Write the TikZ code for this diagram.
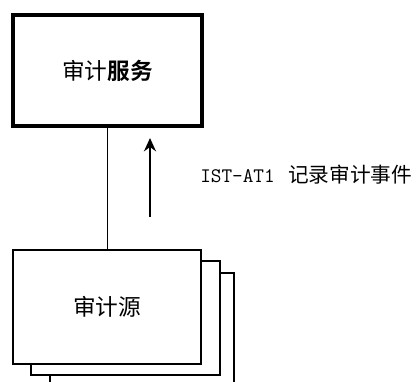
\documentclass[tikz,border=0pt]{standalone}
\usepackage{fontspec}
\newfontfamily\cjk{Noto Sans CJK SC}
\newfontfamily\cjkbf{Noto Sans CJK SC Bold}
\usetikzlibrary{positioning, arrows.meta}

\begin{document}
\begin{tikzpicture}[x=0.75pt, y=-0.75pt, >=Stealth,
  servicebox/.style={draw, line width=2.8pt, fill=white, minimum width=141.75pt, minimum height=83.25pt, font=\cjk\fontsize{17}{20}\selectfont},
  sourcebox/.style={draw, line width=2.1pt, fill=white, minimum width=141pt, minimum height=85.5pt, font=\cjk\fontsize{17}{20}\selectfont}]

\useasboundingbox (0,0) rectangle (416,381);

% audit service
\node[servicebox] (service) at (107.5,70.5) {审计{\cjkbf 服务}};

% stacked audit sources, back to front
\node[sourcebox, minimum width=138pt, minimum height=86.25pt] (sourcethree) at (142,330.5) {};
\node[sourcebox, minimum width=141.75pt] (sourcetwo) at (125.5,318) {};
\node[sourcebox] (source) at (107,307) {审计源};

\draw[line width=1.1pt] (service.south) -- (service.south |- source.north);

\coordinate (arrowfrom) at (150,217);
\coordinate (arrowto) at (150,138);
\draw[line width=1.5pt, -{Stealth[length=10pt, width=9pt]}] (arrowfrom) -- (arrowto);

\node[anchor=west, inner sep=0pt] (eventlabel) at (200,175)
  {\fontsize{15.5}{18}\selectfont\ttfamily IST-AT1\hspace{10pt}{\cjk\fontsize{15.5}{18}\selectfont 记录审计事件}};

\end{tikzpicture}
\end{document}
